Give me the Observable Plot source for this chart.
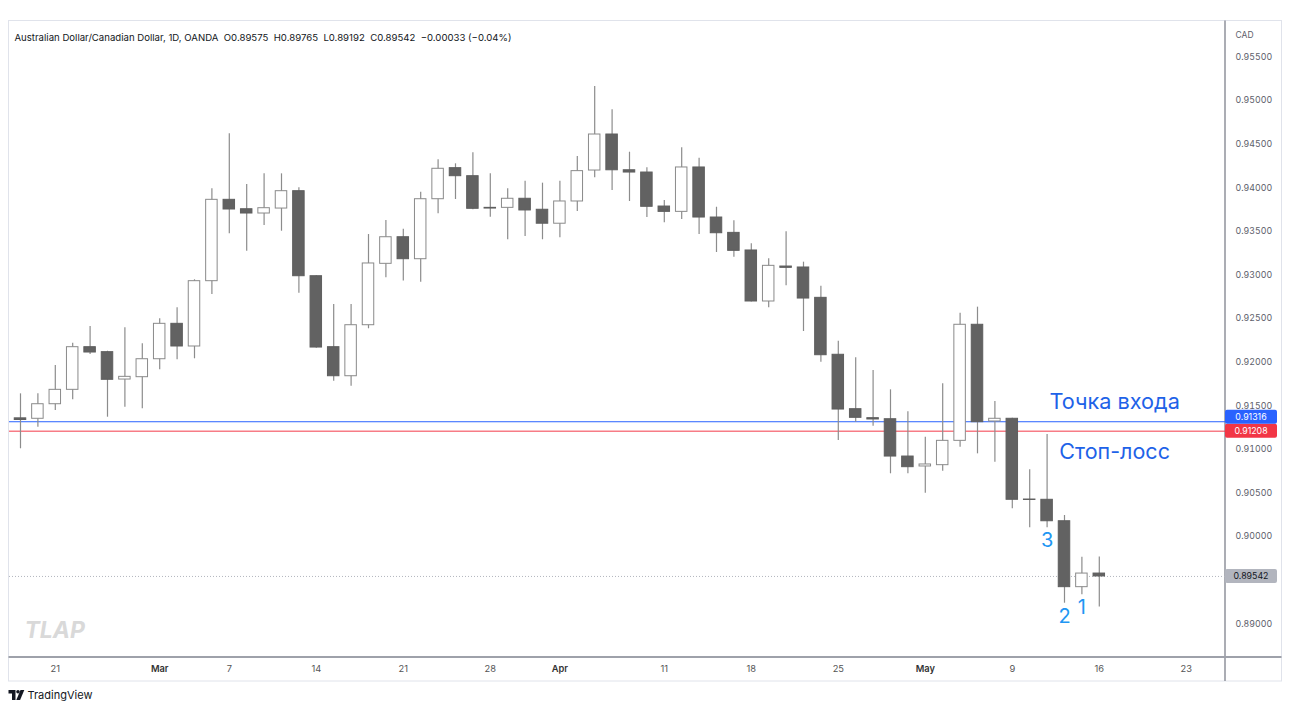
<!DOCTYPE html>
<html>
<head>
<meta charset="utf-8">
<script src="https://cdn.jsdelivr.net/npm/d3@7"></script>
<script src="https://cdn.jsdelivr.net/npm/@observablehq/plot@0.6"></script>
<style>
  html, body { margin: 0; padding: 0; background: #fff; }
  svg text { white-space: pre; }
</style>
</head>
<body>
<div id="chart"></div>
<script>
// AUD/CAD daily candles, OANDA
const symbolTitle = "Australian Dollar/Canadian Dollar, 1D, OANDA";
const currency = "CAD";

const dates = [
  "2022-02-17","2022-02-18","2022-02-21","2022-02-22","2022-02-23","2022-02-24","2022-02-25","2022-02-28",
  "2022-03-01","2022-03-02","2022-03-03","2022-03-04","2022-03-07","2022-03-08","2022-03-09","2022-03-10",
  "2022-03-11","2022-03-14","2022-03-15","2022-03-16","2022-03-17","2022-03-18","2022-03-21","2022-03-22",
  "2022-03-23","2022-03-24","2022-03-25","2022-03-28","2022-03-29","2022-03-30","2022-03-31","2022-04-01",
  "2022-04-04","2022-04-05","2022-04-06","2022-04-07","2022-04-08","2022-04-11","2022-04-12","2022-04-13",
  "2022-04-14","2022-04-15","2022-04-18","2022-04-19","2022-04-20","2022-04-21","2022-04-22","2022-04-25",
  "2022-04-26","2022-04-27","2022-04-28","2022-04-29","2022-05-02","2022-05-03","2022-05-04","2022-05-05",
  "2022-05-06","2022-05-09","2022-05-10","2022-05-11","2022-05-12","2022-05-13","2022-05-16"
];
const open = [
  0.91355,0.91350,0.91517,0.91682,0.92171,0.92114,0.91800,0.91827,0.92033,0.92439,
  0.92179,0.92928,0.93861,0.93753,0.93704,0.93761,0.93960,0.92985,0.92171,0.91838,
  0.92423,0.93127,0.93432,0.93180,0.93868,0.94224,0.94132,0.93769,0.93769,0.93873,
  0.93747,0.93587,0.93842,0.94197,0.94610,0.94200,0.94174,0.93784,0.93723,0.94232,
  0.93658,0.93482,0.93280,0.92695,0.93096,0.93085,0.92737,0.92084,0.91460,0.91357,
  0.91345,0.90917,0.90803,0.90818,0.91097,0.92428,0.91319,0.91350,0.90424,0.90421,
  0.90175,0.89419,0.89575
];
const high = [
  0.91636,0.91636,0.91961,0.92217,0.92408,0.92125,0.92393,0.92210,0.92497,0.92623,
  0.92944,0.93987,0.94618,0.94037,0.94159,0.94159,0.93999,0.92990,0.92661,0.92661,
  0.93463,0.93624,0.93524,0.93948,0.94320,0.94274,0.94400,0.94159,0.93987,0.94075,
  0.94052,0.94075,0.94358,0.95160,0.94893,0.94407,0.94228,0.93853,0.94458,0.94338,
  0.93776,0.93620,0.93357,0.93185,0.93494,0.93146,0.92870,0.92240,0.92049,0.91904,
  0.91682,0.91430,0.91139,0.91751,0.92561,0.92630,0.91548,0.91355,0.90765,0.91170,
  0.90241,0.89763,0.89765
];
const low = [
  0.91006,0.91253,0.91445,0.91568,0.92087,0.91368,0.91483,0.91464,0.91912,0.92026,
  0.92038,0.92775,0.93471,0.93272,0.93567,0.93501,0.92790,0.92160,0.91781,0.91724,
  0.92382,0.92967,0.92931,0.92916,0.93701,0.93865,0.93747,0.93662,0.93403,0.93440,
  0.93403,0.93426,0.93727,0.94113,0.93968,0.93842,0.93658,0.93597,0.93635,0.93463,
  0.93257,0.93203,0.92690,0.92623,0.92875,0.92351,0.91999,0.91101,0.91311,0.91265,
  0.90719,0.90719,0.90497,0.90749,0.91024,0.90948,0.90852,0.90318,0.90100,0.90100,
  0.89235,0.89331,0.89192
];
const close = [
  0.91336,0.91517,0.91682,0.92171,0.92110,0.91797,0.91831,0.92033,0.92439,0.92179,
  0.92928,0.93861,0.93750,0.93704,0.93765,0.93960,0.92985,0.92167,0.91838,0.92423,
  0.93131,0.93432,0.93180,0.93868,0.94217,0.94132,0.93758,0.93761,0.93873,0.93739,
  0.93587,0.93842,0.94190,0.94610,0.94200,0.94174,0.93781,0.93723,0.94232,0.93658,
  0.93478,0.93276,0.92695,0.93104,0.93081,0.92729,0.92079,0.91456,0.91361,0.91342,
  0.90917,0.90795,0.90826,0.91097,0.92428,0.91311,0.91350,0.90421,0.90419,0.90175,
  0.89419,0.89575,0.89542
];

// trade levels
const entryPrice = 0.91316;
const stopPrice = 0.91208;
const entryLabel = "Точка входа";
const stopLabel = "Стоп-лосс";

// wave count under the last candles
const waveDates = ["2022-05-11", "2022-05-12", "2022-05-13"];
const waveLabels = ["3", "2", "1"];

// price scale ticks (0.895 is hidden behind the last-price tag)
const priceTicks = [0.890, 0.900, 0.905, 0.910, 0.915, 0.920, 0.925, 0.930, 0.935, 0.940, 0.945, 0.950, 0.955];

// time scale ticks
const dayTickDates = ["2022-02-21","2022-03-07","2022-03-14","2022-03-21","2022-03-28","2022-04-11","2022-04-18","2022-04-25","2022-05-09","2022-05-16","2022-05-23"];
const dayTickLabels = ["21","7","14","21","28","11","18","25","9","16","23"];
const monthTickDates = ["2022-03-01","2022-04-01","2022-05-02"];
const monthTickLabels = ["Mar","Apr","May"];

// ---------------------------------------------------------------------------

// position on the time axis: number of weekdays since the first session
const firstSession = new Date(dates[0] + "T00:00:00Z");
function sessionIndex(s) {
  const d = new Date(s + "T00:00:00Z");
  let n = 0;
  for (const t = new Date(firstSession); t < d; t.setUTCDate(t.getUTCDate() + 1)) {
    const w = t.getUTCDay();
    if (w !== 0 && w !== 6) n++;
  }
  return n;
}

const candles = dates.map((date, k) => ({
  date, i: sessionIndex(date),
  open: open[k], high: high[k], low: low[k], close: close[k]
}));
const upCandles = candles.filter(d => d.close >= d.open);
const downCandles = candles.filter(d => d.close < d.open);
const last = candles[candles.length - 1];
const prev = candles[candles.length - 2];

const waves = waveDates.map((date, k) => {
  const c = candles.find(d => d.date === date);
  return { i: c.i, low: c.low, label: waveLabels[k] };
});
const dayTicks = dayTickDates.map((d, k) => ({ i: sessionIndex(d), label: dayTickLabels[k] }));
const monthTicks = monthTickDates.map((d, k) => ({ i: sessionIndex(d), label: monthTickLabels[k] }));

const fmt = d3.format(".5f");
const change = last.close - prev.close;
const sign = v => (v < 0 ? "\u2212" : "+");
const headerText =
  `${symbolTitle}  O${fmt(last.open)}  H${fmt(last.high)}  L${fmt(last.low)}  C${fmt(last.close)}  ` +
  `${sign(change)}${fmt(Math.abs(change))} (${sign(change)}${Math.abs(change / prev.close * 100).toFixed(2)}%)`;

const halfBody = 0.33;
const axisGrey = "#5d606b";
const wickGrey = "#8c8c8c";
const bodyDark = "#626262";
const axisFont = 8.8;

// price tags on the right scale
const priceTags = [
  { value: entryPrice, bg: "#2962ff", fg: "#ffffff" },
  { value: stopPrice, bg: "#f23645", fg: "#ffffff" },
  { value: last.close, bg: "#b2b5be", fg: "#131722" }
];

function renderTags(index, scales, values, dims) {
  const y = scales.y;
  const x0 = dims.width - dims.marginRight;
  const h = 14;
  const items = priceTags.map(t => ({ ...t, cy: y(t.value) })).sort((a, b) => b.cy - a.cy);
  for (let k = 1; k < items.length; k++) {
    if (items[k - 1].cy - items[k].cy < h) items[k].cy = items[k - 1].cy - h;
  }
  const g = d3.create("svg:g");
  for (const t of items) {
    g.append("rect").attr("x", x0).attr("y", t.cy - h / 2).attr("width", 52).attr("height", h)
      .attr("rx", 2).attr("fill", t.bg);
    g.append("text").attr("x", x0 + 26).attr("y", t.cy).attr("dy", "0.35em")
      .attr("text-anchor", "middle").attr("fill", t.fg).attr("font-size", axisFont).text(fmt(t.value));
  }
  return g.node();
}

function renderChrome(index, scales, values, dims) {
  const left = dims.marginLeft - 0.5;
  const top = dims.marginTop - 0.5;
  const right = dims.width - 8.5;
  const xAxisY = dims.height - dims.marginBottom;
  const bottom = xAxisY + 24;
  const priceX = dims.width - dims.marginRight;
  const g = d3.create("svg:g");
  g.append("rect").attr("x", left).attr("y", top).attr("width", right - left).attr("height", bottom - top)
    .attr("fill", "none").attr("stroke", "#e0e3eb");
  g.append("line").attr("x1", priceX).attr("x2", priceX).attr("y1", top).attr("y2", bottom)
    .attr("stroke", "#8f929b").attr("stroke-width", 1.5);
  g.append("line").attr("x1", left).attr("x2", right).attr("y1", xAxisY).attr("y2", xAxisY)
    .attr("stroke", "#9ea1aa").attr("stroke-width", 2);
  // TradingView mark
  const ly = bottom + 9;
  const logo = g.append("g").attr("fill", "#131722");
  logo.append("path").attr("d", `M${left} ${ly} h7 v10 h-3.5 v-6.5 h-3.5 z`);
  logo.append("circle").attr("cx", left + 9.5).attr("cy", ly + 1.8).attr("r", 1.8);
  logo.append("path").attr("d", `M${left + 12} ${ly} h3.8 l-4.2 10 h-3.8 z`);
  g.append("text").attr("x", left + 19).attr("y", ly + 5).attr("dy", "0.35em")
    .attr("text-anchor", "start").attr("fill", "#131722").attr("font-size", 11).text("TradingView");
  return g.node();
}

const chart = Plot.plot({
  width: 1290,
  height: 711,
  marginTop: 21,
  marginRight: 65,
  marginBottom: 54,
  marginLeft: 9,
  style: { fontFamily: "Inter, 'Noto Sans', sans-serif", fontSize: "10px", background: "#fff", color: "#131722" },
  x: { type: "linear", domain: [-0.632, 69.253], axis: null },
  y: { domain: [0.886124, 0.95906], label: null },
  marks: [
    renderChrome,
    // last price dotted guide
    Plot.ruleY([last.close], { stroke: "#b2b5be", strokeDasharray: "1,2" }),
    // entry and stop levels
    Plot.ruleY([entryPrice], { stroke: "#2962ff", strokeWidth: 1 }),
    Plot.ruleY([stopPrice], { stroke: "#f23645", strokeOpacity: 0.65, strokeWidth: 1.5 }),
    // wicks
    Plot.ruleX(candles, { x: "i", y1: "low", y2: "high", stroke: wickGrey, strokeWidth: 1.2 }),
    // bodies
    Plot.rect(upCandles, {
      x1: d => d.i - halfBody, x2: d => d.i + halfBody, y1: "open", y2: "close",
      fill: "#ffffff", stroke: "#8a8a8a", strokeWidth: 1
    }),
    Plot.rect(downCandles, {
      x1: d => d.i - halfBody, x2: d => d.i + halfBody, y1: "open", y2: "close",
      fill: bodyDark, stroke: "#5e5e5e", strokeWidth: 1
    }),
    // price scale
    Plot.axisY(priceTicks, {
      anchor: "right", tickSize: 0, tickPadding: 10, tickFormat: fmt,
      fontSize: axisFont, color: axisGrey, label: null
    }),
    Plot.text([currency], { frameAnchor: "top-right", dx: 10, dy: 10, textAnchor: "start", fontSize: 8.5, fill: axisGrey }),
    // time scale
    Plot.text(dayTicks, { x: "i", text: "label", frameAnchor: "bottom", dy: 14, fontSize: 9.3, fill: "#555" }),
    Plot.text(monthTicks, { x: "i", text: "label", frameAnchor: "bottom", dy: 14, fontSize: 9.3, fontWeight: 600, fill: "#333" }),
    // legend line
    Plot.text([headerText], { frameAnchor: "top-left", dx: 5, dy: 13, textAnchor: "start", fontSize: 9.6, fill: "#131722" }),
    // watermark
    Plot.text(["TLAP"], { frameAnchor: "bottom-left", dx: 15, dy: -20, textAnchor: "start", fontSize: 23, fontWeight: 700, fontStyle: "italic", fill: "#d9d9d9" }),
    // trade annotations
    Plot.text([entryPrice], { x: () => 62.88, y: d => d, text: () => entryLabel, dy: -20, fontSize: 21.7, fill: "#1e62e8" }),
    Plot.text([stopPrice], { x: () => 62.88, y: d => d, text: () => stopLabel, dy: 21, fontSize: 21.5, fill: "#1e62e8" }),
    Plot.text(waves, { x: "i", y: "low", text: "label", dy: 13, fontSize: 20, fill: "#2196f3" }),
    renderTags
  ]
});

document.getElementById("chart").appendChild(chart);
</script>
</body>
</html>
